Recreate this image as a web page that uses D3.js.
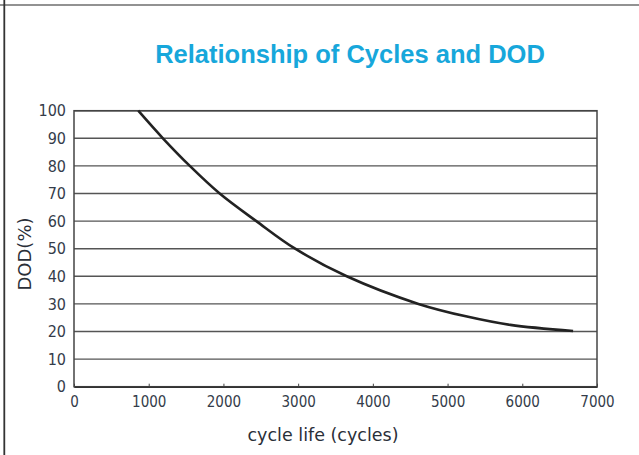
<!DOCTYPE html>
<html><head><meta charset="utf-8">
<script src="https://cdn.jsdelivr.net/npm/d3@7/dist/d3.min.js"></script>
<style>html,body{margin:0;padding:0;background:#fff;overflow:hidden}</style>
</head><body>
<svg id="chart" width="639" height="455"></svg>
<script>
const titleText = "Relationship of Cycles and DOD";
const xLabel = "cycle life (cycles)";
const yLabel = "DOD(%)";
const xTicks = [0, 1000, 2000, 3000, 4000, 5000, 6000, 7000];
const yTicks = [0, 10, 20, 30, 40, 50, 60, 70, 80, 90, 100];
const cycles = [860, 1190, 1550, 1950, 2440, 2960, 3650, 4610, 5260, 5840, 6680];
const dod    = [100, 90, 80, 70, 60, 50, 40, 30, 25.4, 22.4, 20.2];

const svg = d3.select("#chart");
const W = 639, H = 455;
const m = {left: 74, right: 639 - 597, top: 110.7, bottom: 455 - 386.7};
const x = d3.scaleLinear().domain([0, 7000]).range([m.left, W - m.right]);
const y = d3.scaleLinear().domain([0, 100]).range([H - m.bottom, m.top]);
const tickFont = "'DejaVu Sans Condensed', 'DejaVu Sans', sans-serif";
const labelFont = "'DejaVu Sans', sans-serif";

// outer frame lines
svg.append("line").attr("x1", 0).attr("x2", W).attr("y1", 5).attr("y2", 5)
  .attr("stroke", "#6e6e6e").attr("stroke-width", 1.6);
svg.append("line").attr("x1", 4.3).attr("x2", 4.3).attr("y1", 0).attr("y2", H)
  .attr("stroke", "#333").attr("stroke-width", 1.8);

// title
svg.append("text").attr("x", 350).attr("y", 63).attr("text-anchor", "middle")
  .attr("font-family", "'Liberation Sans', Arial, sans-serif").attr("font-weight", "bold")
  .attr("font-size", 25.5).attr("fill", "#17a7db").text(titleText);

// gridlines
svg.append("g").selectAll("line").data(yTicks).join("line")
  .attr("x1", x(0)).attr("x2", x(7000))
  .attr("y1", d => y(d)).attr("y2", d => y(d))
  .attr("stroke", "#555").attr("stroke-width", 1.4);

// frame of plot
svg.append("rect").attr("x", x(0)).attr("y", y(100)).attr("width", x(7000) - x(0)).attr("height", y(0) - y(100))
  .attr("fill", "none").attr("stroke", "#444").attr("stroke-width", 1.5);

// x axis
const xAxis = d3.axisBottom(x).tickValues(xTicks).tickFormat(d3.format("d"))
  .tickSizeInner(-3).tickSizeOuter(0).tickPadding(10);
const gx = svg.append("g").attr("transform", `translate(0,${y(0)})`).call(xAxis);
gx.select(".domain").attr("stroke", "#333").attr("stroke-width", 1.5);
gx.selectAll(".tick line").attr("stroke", "#444");
gx.selectAll("text").attr("font-family", tickFont)
  .attr("font-size", 15).attr("fill", "#343c4a");

// y axis
const yAxis = d3.axisLeft(y).tickValues(yTicks).tickSize(0).tickPadding(8);
const gy = svg.append("g").attr("transform", `translate(${x(0)},0)`).call(yAxis);
gy.select(".domain").remove();
gy.selectAll("text").attr("font-family", tickFont)
  .attr("font-size", 16).attr("fill", "#343c4a");

// axis titles
svg.append("text").attr("x", 323).attr("y", 441).attr("text-anchor", "middle")
  .attr("font-family", labelFont)
  .attr("font-size", 17.5).attr("fill", "#2a2f38").text(xLabel);
svg.append("text").attr("transform", "translate(31,254) rotate(-90)").attr("text-anchor", "middle")
  .attr("font-family", labelFont)
  .attr("font-size", 18).attr("fill", "#2a2f38").text(yLabel);

// curve
const pts = cycles.map((c, i) => [c, dod[i]]);
const line = d3.line().x(d => x(d[0])).y(d => y(d[1])).curve(d3.curveCatmullRom.alpha(0.5));
svg.append("path").datum(pts).attr("d", line)
  .attr("fill", "none").attr("stroke", "#222").attr("stroke-width", 2.6);
</script>
</body></html>
